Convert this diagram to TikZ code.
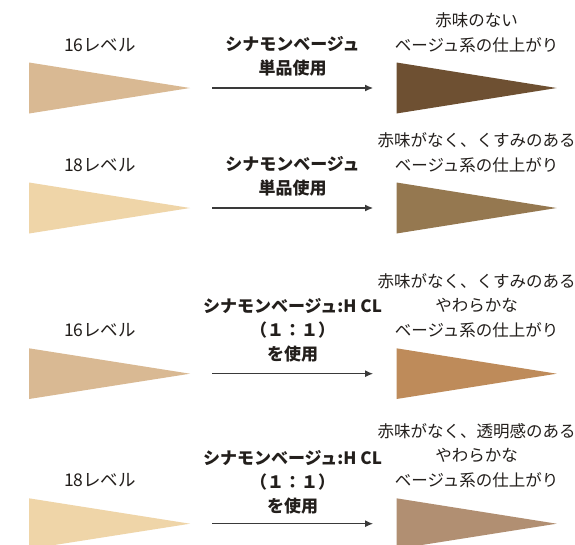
\documentclass[tikz,border=0pt]{standalone}
\usepackage{fontspec}
\setmainfont{Noto Sans CJK JP}
\usetikzlibrary{arrows.meta}
\definecolor{ink}{HTML}{231F1C}
\definecolor{arrowgray}{HTML}{3A3A3A}
\definecolor{tanA}{HTML}{D9B993}
\definecolor{tanB}{HTML}{EFD5A8}
\definecolor{resA}{HTML}{6E5032}
\definecolor{resB}{HTML}{957850}
\definecolor{resC}{HTML}{BE8B5A}
\definecolor{resD}{HTML}{B18F72}
\begin{document}
\begin{tikzpicture}[x=1pt,y=-1pt,
  lvl/.style={font=\fontsize{17.5}{24.5}\selectfont, text=ink, align=center, inner sep=0pt},
  lbl/.style={font=\fontsize{16.5}{24.5}\selectfont, text=ink, align=center, inner sep=0pt},
  bld/.style={font=\fontsize{17}{24}\selectfont\bfseries, text=ink, align=center, inner sep=0pt},
  arr/.style={draw=arrowgray, line width=1.1pt, -{Latex[length=8pt,width=7pt]},
              shorten <=22pt, shorten >=23.5pt}]
\clip (0,0) rectangle (575,544);
\fill[white] (0,0) rectangle (575,544);

% Row 1
\fill[tanA] (29,62.5) -- (190,88) -- (29,113.5) -- cycle;
\fill[resA] (396.5,62.5) -- (556.7,88) -- (396.5,113.5) -- cycle;
\coordinate (a1) at (190,88);
\coordinate (b1) at (396.5,88);
\node[lvl] (l1) at (100,45) {16レベル};
\node[bld] (m1) at (292.5,56.5) {シナモンベージュ\\単品使用};
\node[lbl] (r1) at (476.6,32.5) {赤味のない\\ベージュ系の仕上がり};
\draw[arr] (a1) -- (b1);

% Row 2
\fill[tanB] (29,182.5) -- (190,208) -- (29,233.5) -- cycle;
\fill[resB] (396.5,182.5) -- (556.7,208) -- (396.5,233.5) -- cycle;
\coordinate (a2) at (190,208);
\coordinate (b2) at (396.5,208);
\node[lvl] (l2) at (100,165) {18レベル};
\node[bld] (m2) at (292.5,176.5) {シナモンベージュ\\単品使用};
\node[lbl] (r2) at (476.6,152.5) {赤味がなく、くすみのある\\ベージュ系の仕上がり};
\draw[arr] (a2) -- (b2);

% Row 3
\fill[tanA] (29,348.3) -- (190,373.7) -- (29,399) -- cycle;
\fill[resC] (396.5,348.3) -- (556.7,373.7) -- (396.5,399) -- cycle;
\coordinate (a3) at (190,373.7);
\coordinate (b3) at (396.5,373.7);
\node[lvl] (l3) at (100,330) {16レベル};
\node[bld] (m3) at (292.5,330.5) {シナモンベージュ:H CL\\（１：１）\\を使用};
\node[lbl] (r3) at (476.6,305.5) {赤味がなく、くすみのある\\やわらかな\\ベージュ系の仕上がり};
\draw[arr] (a3) -- (b3);

% Row 4
\fill[tanB] (29,498.3) -- (190,523.7) -- (29,549) -- cycle;
\fill[resD] (396.5,498.3) -- (556.7,523.7) -- (396.5,549) -- cycle;
\coordinate (a4) at (190,523.7);
\coordinate (b4) at (396.5,523.7);
\node[lvl] (l4) at (100,480) {18レベル};
\node[bld] (m4) at (292.5,482.5) {シナモンベージュ:H CL\\（１：１）\\を使用};
\node[lbl] (r4) at (476.6,455.5) {赤味がなく、透明感のある\\やわらかな\\ベージュ系の仕上がり};
\draw[arr] (a4) -- (b4);
\end{tikzpicture}
\end{document}
